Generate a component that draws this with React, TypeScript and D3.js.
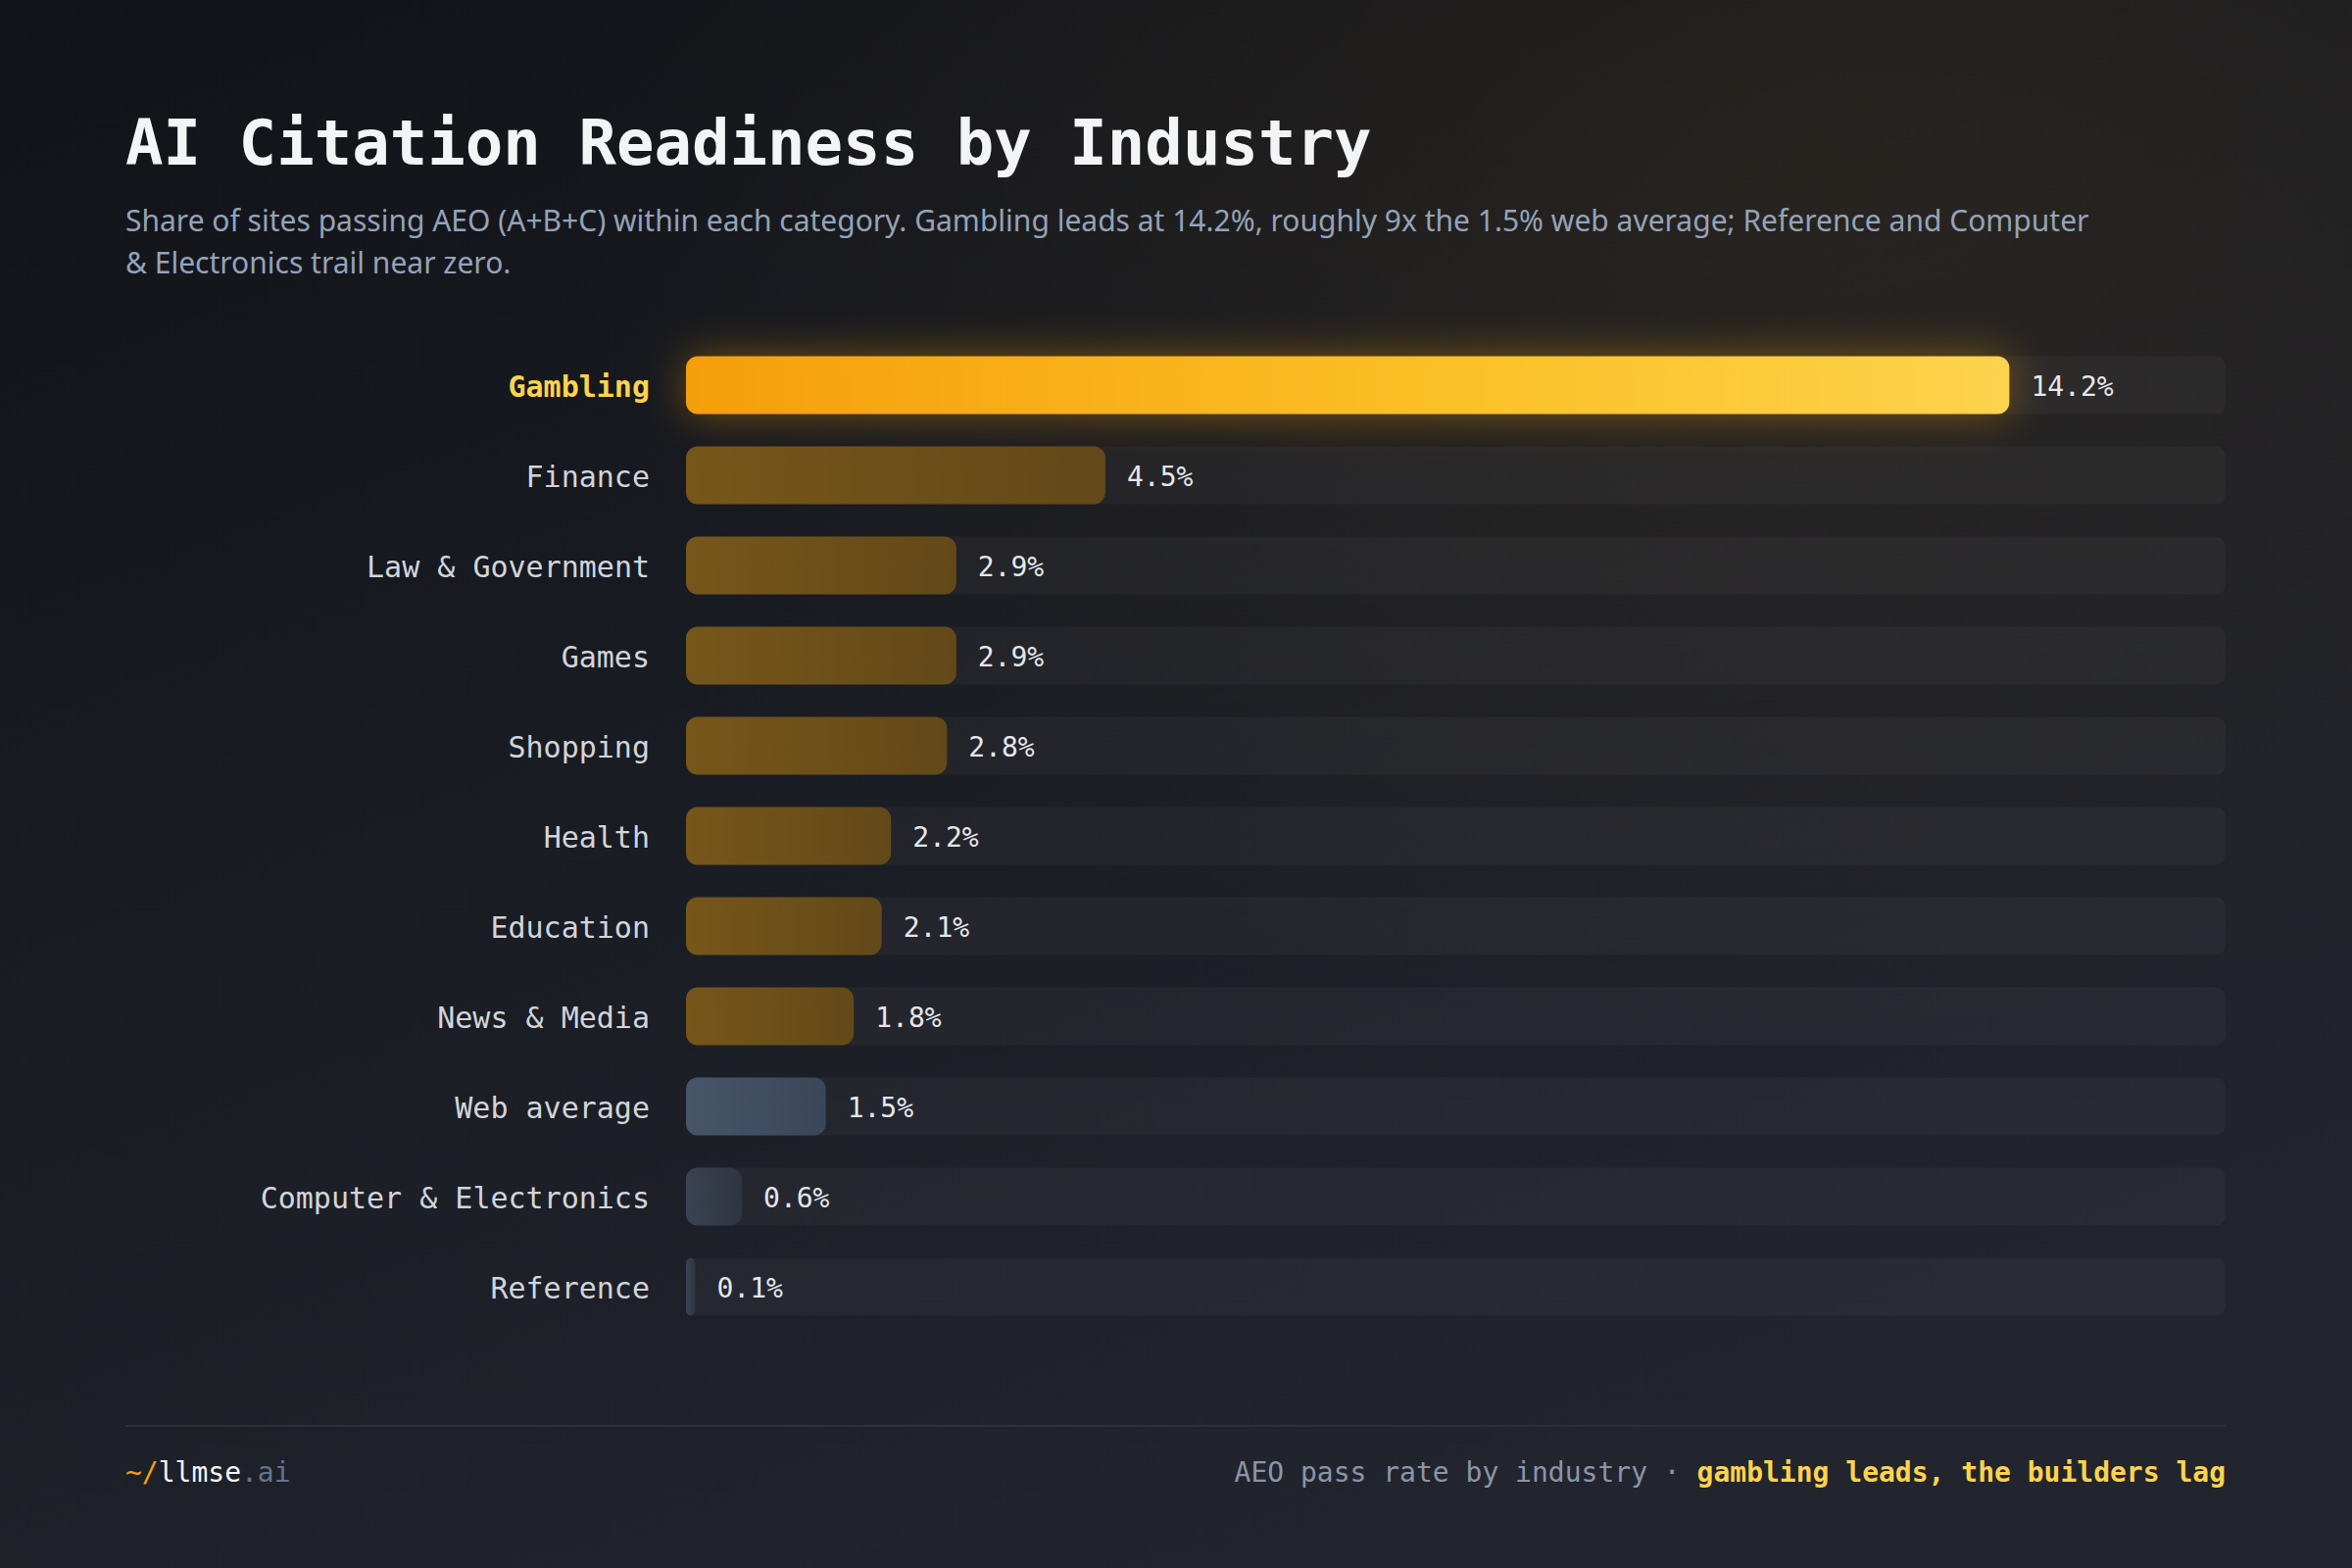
import React, { useEffect, useRef } from 'react';
import * as d3 from 'd3';

const categories = [
  'Gambling',
  'Finance',
  'Law & Government',
  'Games',
  'Shopping',
  'Health',
  'Education',
  'News & Media',
  'Web average',
  'Computer & Electronics',
  'Reference',
];
const passRates = [14.2, 4.5, 2.9, 2.9, 2.8, 2.2, 2.1, 1.8, 1.5, 0.6, 0.1];
const highlight = 'Gambling';
const baseline = 'Web average';
const trailing = ['Computer & Electronics', 'Reference'];

const title = 'AI Citation Readiness by Industry';
const subtitleLines = [
  'Share of sites passing AEO (A+B+C) within each category. Gambling leads at 14.2%, roughly 9x the 1.5% web average; Reference and Computer',
  '& Electronics trail near zero.',
];

const W = 2400;
const H = 1600;
const MONO = '"DejaVu Sans Mono", "Liberation Mono", monospace';
const SANS = '"Noto Sans", "Open Sans", sans-serif';

const draw = (el: SVGSVGElement) => {
  const svg = d3.select(el);
  svg.selectAll('*').remove();

  const margin = { left: 128, right: 2271 };
  const trackLeft = 700;

  const x = d3.scaleLinear().domain([0, 16.52]).range([trackLeft, margin.right]);
  const y = d3
    .scaleBand<string>()
    .domain(categories)
    .range([363.5, 1342.5])
    .paddingInner(0.359)
    .paddingOuter(0);

  const defs = svg.append('defs');

  const bg = defs
    .append('linearGradient')
    .attr('id', 'bg')
    .attr('x1', 0)
    .attr('y1', 0)
    .attr('x2', 0.55)
    .attr('y2', 1);
  bg.append('stop').attr('offset', 0).attr('stop-color', '#111318');
  bg.append('stop').attr('offset', 1).attr('stop-color', '#22252e');

  const warm = defs
    .append('radialGradient')
    .attr('id', 'warm')
    .attr('cx', 0.78)
    .attr('cy', 0.12)
    .attr('r', 0.55);
  warm.append('stop').attr('offset', 0).attr('stop-color', '#f59e0b').attr('stop-opacity', 0.07);
  warm.append('stop').attr('offset', 1).attr('stop-color', '#f59e0b').attr('stop-opacity', 0);

  const hot = defs.append('linearGradient').attr('id', 'hot');
  hot.append('stop').attr('offset', 0).attr('stop-color', '#f59e0b');
  hot.append('stop').attr('offset', 0.55).attr('stop-color', '#fbbf24');
  hot.append('stop').attr('offset', 1).attr('stop-color', '#fcd34d');

  const dim = defs.append('linearGradient').attr('id', 'dim');
  dim.append('stop').attr('offset', 0).attr('stop-color', '#76561a');
  dim.append('stop').attr('offset', 1).attr('stop-color', '#634919');

  const avg = defs.append('linearGradient').attr('id', 'avg');
  avg.append('stop').attr('offset', 0).attr('stop-color', '#475569');
  avg.append('stop').attr('offset', 1).attr('stop-color', '#3a4759');

  const low = defs.append('linearGradient').attr('id', 'low');
  low.append('stop').attr('offset', 0).attr('stop-color', '#3b4252');
  low.append('stop').attr('offset', 1).attr('stop-color', '#2e3440');

  const glow = defs
    .append('filter')
    .attr('id', 'glow')
    .attr('x', -0.1)
    .attr('y', -1.5)
    .attr('width', 1.2)
    .attr('height', 4);
  glow.append('feGaussianBlur').attr('stdDeviation', 22);

  svg.append('rect').attr('width', W).attr('height', H).attr('fill', 'url(#bg)');
  svg.append('rect').attr('width', W).attr('height', H).attr('fill', 'url(#warm)');

  // header
  svg
    .append('text')
    .attr('x', margin.left)
    .attr('y', 168)
    .attr('font-family', MONO)
    .attr('font-weight', 700)
    .attr('font-size', 64)
    .attr('fill', '#f3f4f6')
    .text(title);

  svg
    .append('g')
    .attr('font-family', SANS)
    .attr('font-size', 30)
    .attr('fill', '#94a3b8')
    .selectAll('text')
    .data(subtitleLines)
    .join('text')
    .attr('x', margin.left)
    .attr('y', (d, i) => 236 + i * 43)
    .text((d) => d);

  const rows = categories.map((c, i) => ({ name: c, value: passRates[i] }));
  const fillFor = (n: string) =>
    n === highlight ? 'url(#hot)' : n === baseline ? 'url(#avg)' : trailing.includes(n) ? 'url(#low)' : 'url(#dim)';

  // tracks
  svg
    .append('g')
    .selectAll('rect')
    .data(rows)
    .join('rect')
    .attr('x', trackLeft)
    .attr('y', (d) => y(d.name)!)
    .attr('width', margin.right - trackLeft)
    .attr('height', y.bandwidth())
    .attr('rx', 10)
    .attr('fill', '#ffffff')
    .attr('fill-opacity', 0.035);

  // glow behind leader
  const lead = rows.filter((d) => d.name === highlight);
  svg
    .append('g')
    .selectAll('rect')
    .data(lead)
    .join('rect')
    .attr('x', x(0))
    .attr('y', (d) => y(d.name)!)
    .attr('width', (d) => x(d.value) - x(0))
    .attr('height', y.bandwidth())
    .attr('rx', 12)
    .attr('fill', '#f59e0b')
    .attr('opacity', 0.4)
    .attr('filter', 'url(#glow)');

  // bars
  svg
    .append('g')
    .selectAll('rect')
    .data(rows)
    .join('rect')
    .attr('x', x(0))
    .attr('y', (d) => y(d.name)!)
    .attr('width', (d) => Math.max(x(d.value) - x(0), 6))
    .attr('height', y.bandwidth())
    .attr('rx', (d) => Math.min(12, (x(d.value) - x(0)) / 2 + 1))
    .attr('fill', (d) => fillFor(d.name));

  // category labels
  svg
    .append('g')
    .attr('font-family', MONO)
    .attr('font-size', 30)
    .attr('text-anchor', 'end')
    .selectAll('text')
    .data(rows)
    .join('text')
    .attr('x', 663)
    .attr('y', (d) => y(d.name)! + y.bandwidth() / 2)
    .attr('dy', '0.4em')
    .attr('font-weight', (d) => (d.name === highlight ? 700 : 400))
    .attr('fill', (d) => (d.name === highlight ? '#fcd34d' : '#d1d5db'))
    .text((d) => d.name);

  // value labels
  svg
    .append('g')
    .attr('font-family', MONO)
    .attr('font-size', 28)
    .attr('fill', '#e5e7eb')
    .selectAll('text')
    .data(rows)
    .join('text')
    .attr('x', (d) => Math.max(x(d.value), x(0) + 6) + 22)
    .attr('y', (d) => y(d.name)! + y.bandwidth() / 2)
    .attr('dy', '0.38em')
    .text((d) => `${d.value.toFixed(1)}%`);

  // footer
  svg
    .append('line')
    .attr('x1', margin.left)
    .attr('x2', margin.right)
    .attr('y1', 1455)
    .attr('y2', 1455)
    .attr('stroke', '#2c303a')
    .attr('stroke-width', 2);

  const brand = svg
    .append('text')
    .attr('x', margin.left)
    .attr('y', 1512)
    .attr('font-family', MONO)
    .attr('font-size', 28);
  brand.append('tspan').attr('fill', '#f59e0b').text('~/');
  brand.append('tspan').attr('fill', '#f3f4f6').text('llmse');
  brand.append('tspan').attr('fill', '#64748b').text('.ai');

  const note = svg
    .append('text')
    .attr('x', margin.right)
    .attr('y', 1512)
    .attr('text-anchor', 'end')
    .attr('font-family', MONO)
    .attr('font-size', 28);
  note.append('tspan').attr('fill', '#8b95a7').text('AEO pass rate by industry · ');
  note
    .append('tspan')
    .attr('fill', '#fcd34d')
    .attr('font-weight', 700)
    .text('gambling leads, the builders lag');
};

export default function App() {
  const ref = useRef<SVGSVGElement>(null);
  useEffect(() => {
    if (ref.current) draw(ref.current);
  }, []);
  return (
    <svg
      ref={ref}
      width={W}
      height={H}
      viewBox={`0 0 ${W} ${H}`}
      style={{ position: 'absolute', left: 0, top: 0, display: 'block' }}
    />
  );
}
